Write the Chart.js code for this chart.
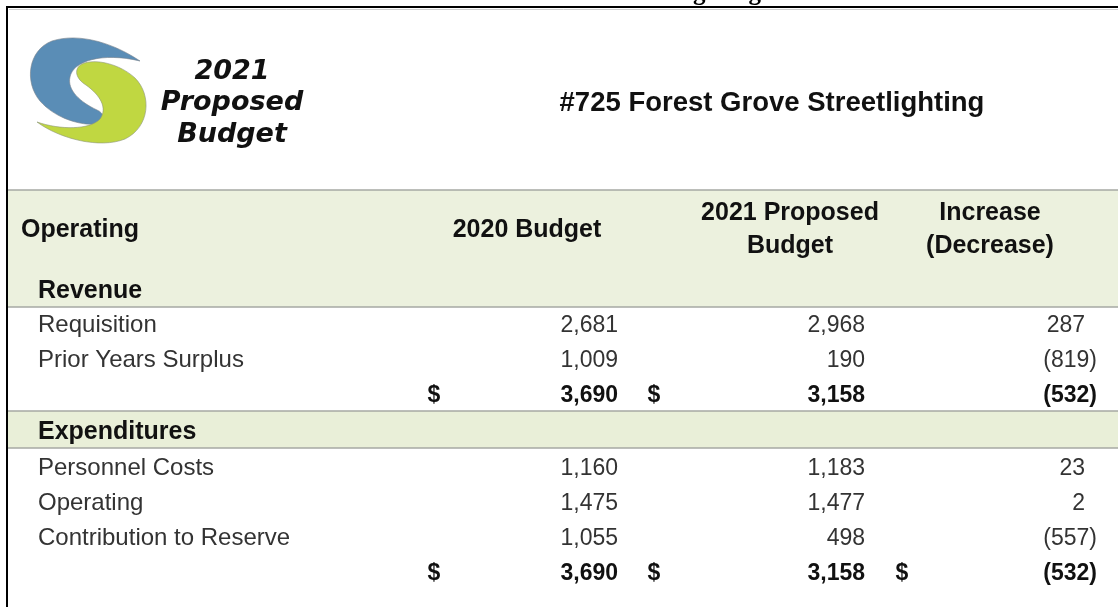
<!DOCTYPE html>
<html>
<head>
<meta charset="utf-8">
<style>
  html, body { margin: 0; padding: 0; background: #ffffff; }
  #c { display: block; }
</style>
<script src="https://cdn.jsdelivr.net/npm/chart.js@4.4.1/dist/chart.umd.min.js"></script>
</head>
<body>
<canvas id="c" width="1118" height="607"></canvas>
<script>
// ---------------- data ----------------
const pageTitle = '#725 Forest Grove Streetlighting';
const logoLines = ['2021', 'Proposed', 'Budget'];
const headerCols = [['2020 Budget'], ['2021 Proposed', 'Budget'], ['Increase', '(Decrease)']];
const headerFirst = 'Operating';

const revenueItems = ['Requisition', 'Prior Years Surplus'];
const revenue2020 = [2681, 1009];
const revenue2021 = [2968, 190];
const revenueChange = [287, -819];
const revenueTotals = [3690, 3158, -532];

const expenseItems = ['Personnel Costs', 'Operating', 'Contribution to Reserve'];
const expense2020 = [1160, 1475, 1055];
const expense2021 = [1183, 1477, 498];
const expenseChange = [23, 2, -557];
const expenseTotals = [3690, 3158, -532];

// table rows in order
const rowKeys = ['Revenue', 'Requisition', 'Prior Years Surplus', 'Revenue total',
                 'Expenditures', 'Personnel Costs', 'Operating', 'Contribution to Reserve', 'Expenditures total'];

// --------------- layout / style (not data) ---------------
const rowCenter = [289, 323, 358, 393, 430, 466, 501, 536, 571];
const FONT = '"Liberation Sans", Arial, sans-serif';
const colRight = [618, 865, 1097];
const posPad = [0, 0, 12];
const dollarX = [434, 654, 902];
const headerCenter = [527, 790, 990];
const labelX = 38;

function fmt(v) {
  const s = Math.abs(v).toLocaleString('en-US');
  return v < 0 ? '(' + s + ')' : s;
}

function drawNumber(ctx, v, c, y) {
  ctx.textAlign = 'right';
  const pad = v < 0 ? 0 : posPad[c];
  ctx.fillText(fmt(v), colRight[c] - pad, y);
}

function drawLogo(ctx) {
  ctx.save();
  // blue arc
  ctx.beginPath();
  ctx.moveTo(140, 61);
  ctx.bezierCurveTo(115, 44, 80, 32, 52, 41);
  ctx.bezierCurveTo(28, 50, 24, 82, 40, 101);
  ctx.bezierCurveTo(55, 118, 80, 126, 98, 124);
  ctx.bezierCurveTo(105, 122, 105, 113, 97, 110);
  ctx.bezierCurveTo(80, 102, 67, 90, 70, 77);
  ctx.bezierCurveTo(73, 61, 102, 52, 140, 61);
  ctx.closePath();
  ctx.fillStyle = '#5a8db6';
  ctx.fill();
  ctx.strokeStyle = 'rgba(120,130,140,0.6)';
  ctx.lineWidth = 1;
  ctx.stroke();
  // green arc
  ctx.beginPath();
  ctx.moveTo(37, 122);
  ctx.bezierCurveTo(60, 139, 100, 149, 125, 139);
  ctx.bezierCurveTo(150, 127, 152, 95, 135, 78);
  ctx.bezierCurveTo(120, 64, 95, 58, 82, 64);
  ctx.bezierCurveTo(73, 69, 76, 79, 86, 85);
  ctx.bezierCurveTo(100, 95, 108, 108, 100, 119);
  ctx.bezierCurveTo(90, 130, 60, 130, 37, 122);
  ctx.closePath();
  ctx.fillStyle = '#c0d741';
  ctx.fill();
  ctx.strokeStyle = 'rgba(140,150,120,0.6)';
  ctx.stroke();
  // logo text
  ctx.fillStyle = '#111';
  ctx.textAlign = 'center';
  ctx.textBaseline = 'alphabetic';
  ctx.font = 'italic bold 27px "DejaVu Sans", Verdana, sans-serif';
  const ly = [79, 110, 142];
  logoLines.forEach((t, i) => ctx.fillText(t, 232, ly[i]));
  ctx.restore();
}

const tablePlugin = {
  id: 'budgetTable',
  beforeDraw(chart) {
    const ctx = chart.ctx;
    const y = chart.scales.y;
    const x = chart.scales.x;
    const left = x.getPixelForValue(8), right = x.getPixelForValue(1118);
    ctx.save();
    ctx.fillStyle = '#fff';
    ctx.fillRect(0, 0, chart.width, chart.height);
    const hdrTop = y.getPixelForValue(190), hdrBot = y.getPixelForValue(307);
    const ec = rowCenter[rowKeys.indexOf('Expenditures')];
    const exTop = y.getPixelForValue(ec - 19), exBot = y.getPixelForValue(ec + 18);
    ctx.fillStyle = '#ecf1de';
    ctx.fillRect(left, hdrTop, right - left, hdrBot - hdrTop);
    ctx.fillStyle = '#e9efd8';
    ctx.fillRect(left, exTop, right - left, exBot - exTop);
    ctx.strokeStyle = '#a6a8a3';
    ctx.lineWidth = 1.5;
    [hdrTop, hdrBot, exTop, exBot].forEach(v => {
      ctx.beginPath(); ctx.moveTo(left, v); ctx.lineTo(right, v); ctx.stroke();
    });
    ctx.restore();
  },
  afterDraw(chart) {
    const ctx = chart.ctx;
    const ys = chart.scales.y;
    ctx.save();
    ctx.textBaseline = 'alphabetic';
    // cut-off line of a page title above the frame
    ctx.fillStyle = '#000';
    ctx.font = 'bold 25px "Liberation Serif", "Times New Roman", serif';
    ctx.textAlign = 'left';
    ctx.fillText('ghting', 693, 0);
    // frame
    ctx.strokeStyle = '#000';
    ctx.lineWidth = 2;
    ctx.beginPath(); ctx.moveTo(7, 607); ctx.lineTo(7, 7); ctx.lineTo(1118, 7); ctx.stroke();
    ctx.strokeStyle = '#d0d0d0';
    ctx.lineWidth = 1;
    ctx.beginPath(); ctx.moveTo(9, 9.5); ctx.lineTo(1118, 9.5); ctx.stroke();

    drawLogo(ctx);

    // page title
    ctx.fillStyle = '#111';
    ctx.font = 'bold 27.5px ' + FONT;
    ctx.textAlign = 'center';
    ctx.fillText(pageTitle, 772, 111);

    // column headers
    ctx.font = 'bold 25px ' + FONT;
    ctx.textAlign = 'left';
    ctx.fillText(headerFirst, 21, 237);
    ctx.textAlign = 'center';
    headerCols.forEach((lines, c) => {
      if (lines.length === 1) ctx.fillText(lines[0], headerCenter[c], 237);
      else { ctx.fillText(lines[0], headerCenter[c], 220); ctx.fillText(lines[1], headerCenter[c], 253); }
    });

    const base = key => ys.getPixelForValue(rowCenter[rowKeys.indexOf(key)]) + 8.5;

    // section titles
    ctx.font = 'bold 25px ' + FONT;
    ctx.fillStyle = '#111';
    ctx.textAlign = 'left';
    ctx.fillText('Revenue', labelX, base('Revenue'));
    ctx.fillText('Expenditures', labelX, base('Expenditures'));

    // detail rows
    const detail = (items, a, b, c) => {
      items.forEach((name, k) => {
        const yy = base(name);
        ctx.fillStyle = '#333';
        ctx.font = '24px ' + FONT;
        ctx.textAlign = 'left';
        ctx.fillText(name, labelX, yy);
        ctx.font = '23px ' + FONT;
        drawNumber(ctx, a[k], 0, yy);
        drawNumber(ctx, b[k], 1, yy);
        drawNumber(ctx, c[k], 2, yy);
      });
    };
    detail(revenueItems, revenue2020, revenue2021, revenueChange);
    detail(expenseItems, expense2020, expense2021, expenseChange);

    // totals
    const total = (key, vals, dollars) => {
      const yy = base(key);
      ctx.font = 'bold 23px ' + FONT;
      ctx.fillStyle = '#111';
      vals.forEach((v, c) => drawNumber(ctx, v, c, yy));
      ctx.textAlign = 'center';
      dollars.forEach(c => ctx.fillText('$', dollarX[c], yy));
    };
    total('Revenue total', revenueTotals, [0, 1]);
    total('Expenditures total', expenseTotals, [0, 1, 2]);
    ctx.restore();
  }
};

new Chart(document.getElementById('c'), {
  type: 'scatter',
  data: { datasets: [{ data: [] }] },
  options: {
    responsive: false,
    animation: false,
    devicePixelRatio: 1,
    layout: { padding: 0 },
    scales: {
      x: { type: 'linear', min: 0, max: 1118, offset: false, display: false },
      y: { type: 'linear', min: 0, max: 607, reverse: true, offset: false, display: false }
    },
    plugins: { legend: { display: false }, tooltip: { enabled: false } }
  },
  plugins: [tablePlugin]
});
</script>
</body>
</html>
